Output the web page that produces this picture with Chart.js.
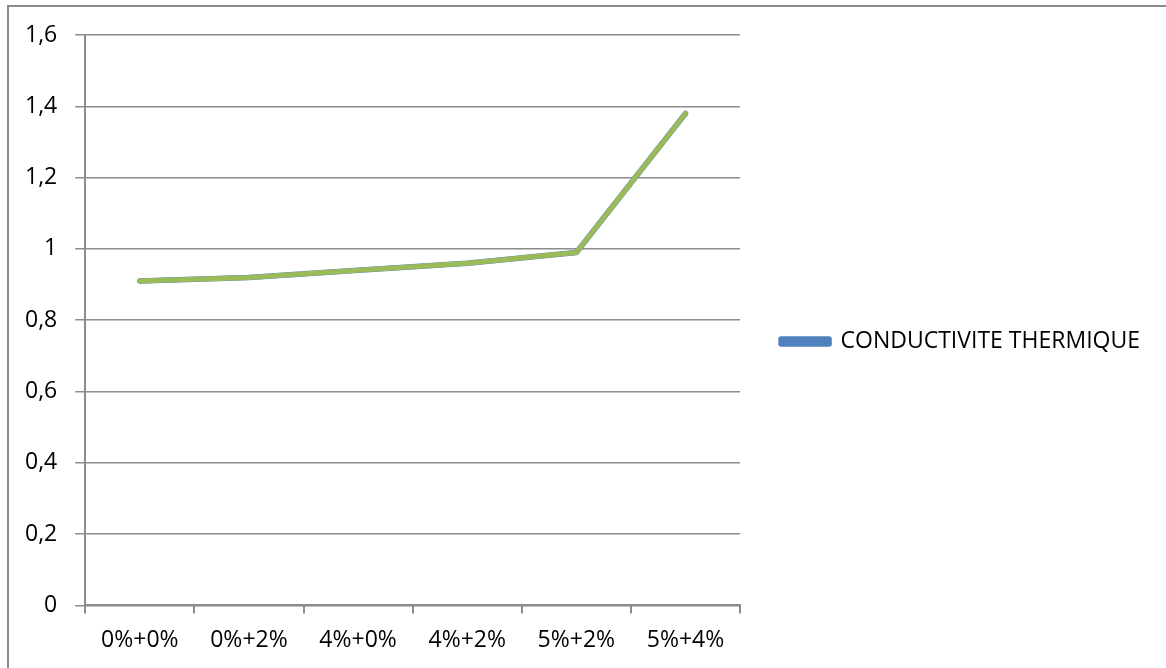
<!DOCTYPE html>
<html lang="fr">
<head>
    <meta charset="UTF-8">
    <title>Conductivité thermique</title>
    <script src="https://cdn.jsdelivr.net/npm/chart.js"></script>
    <style>
        body {
            margin: 0;
            padding: 0;
            background-color: #ffffff;
        }
        #chart {
            display: block;
        }
    </style>
</head>
<body>
    <canvas id="chart" width="1166" height="668"></canvas>

    <script>
        // Données du graphique
        const categories = ["0%+0%", "0%+2%", "4%+0%", "4%+2%", "5%+2%", "5%+4%"];
        const conductivite = [0.91, 0.92, 0.94, 0.96, 0.99, 1.38];
        const serieNom = "CONDUCTIVITE THERMIQUE";

        const gris = "#8c8c8c";
        const police = { family: "'Open Sans', sans-serif", size: 23 };

        // cadre gris en haut et à gauche
        const cadre = {
            id: "cadre",
            beforeDraw(chart) {
                const ctx = chart.ctx;
                ctx.save();
                ctx.fillStyle = "#ffffff";
                ctx.fillRect(0, 0, chart.width, chart.height);
                ctx.strokeStyle = gris;
                ctx.lineWidth = 2;
                ctx.beginPath();
                ctx.moveTo(8, chart.height);
                ctx.lineTo(8, 6);
                ctx.lineTo(chart.width, 6);
                ctx.stroke();
                ctx.restore();
            }
        };

        function dessiner() {
            new Chart(document.getElementById("chart").getContext("2d"), {
                type: "line",
                data: {
                    labels: categories,
                    datasets: [
                        {
                            label: serieNom,
                            data: conductivite,
                            borderColor: "#4f81bd",
                            backgroundColor: "#4f81bd",
                            borderWidth: 5.5,
                            pointRadius: 0,
                            tension: 0,
                            order: 1,
                            borderCapStyle: "round",
                            borderJoinStyle: "round"
                        },
                        {
                            label: "",
                            data: conductivite,
                            borderColor: "#9bbb59",
                            backgroundColor: "#9bbb59",
                            borderWidth: 5,
                            pointRadius: 0,
                            tension: 0,
                            order: 0,
                            borderCapStyle: "round",
                            borderJoinStyle: "round"
                        }
                    ]
                },
                options: {
                    responsive: false,
                    animation: false,
                    layout: {
                        padding: { left: 7, top: 35, right: 16, bottom: 1 }
                    },
                    plugins: {
                        tooltip: { enabled: false },
                        legend: {
                            position: "right",
                            maxWidth: 500,
                            // titre vide pour remonter un peu la légende
                            title: {
                                display: true,
                                text: "",
                                font: { size: 1, lineHeight: 1 },
                                padding: { top: -20, bottom: 0 }
                            },
                            labels: {
                                filter: item => item.text === serieNom,
                                boxWidth: 48,
                                boxHeight: 5,
                                color: "#000000",
                                font: police,
                                padding: 41
                            }
                        }
                    },
                    scales: {
                        x: {
                            offset: true,
                            border: { color: gris, width: 2 },
                            grid: {
                                offset: true,
                                drawOnChartArea: false,
                                drawTicks: true,
                                tickLength: 8,
                                color: gris,
                                lineWidth: 2
                            },
                            ticks: {
                                color: "#000000",
                                font: police,
                                padding: 13,
                                maxRotation: 0
                            }
                        },
                        y: {
                            min: 0,
                            max: 1.6,
                            border: { color: gris, width: 2 },
                            grid: {
                                color: gris,
                                lineWidth: 1.5,
                                tickLength: 10
                            },
                            ticks: {
                                stepSize: 0.2,
                                color: "#000000",
                                font: police,
                                padding: 18,
                                callback: v => (Math.round(v * 10) / 10).toString().replace(".", ",")
                            }
                        }
                    }
                },
                plugins: [cadre]
            });
        }

        document.fonts.load("23px 'Open Sans'").then(dessiner, dessiner);
    </script>
</body>
</html>
